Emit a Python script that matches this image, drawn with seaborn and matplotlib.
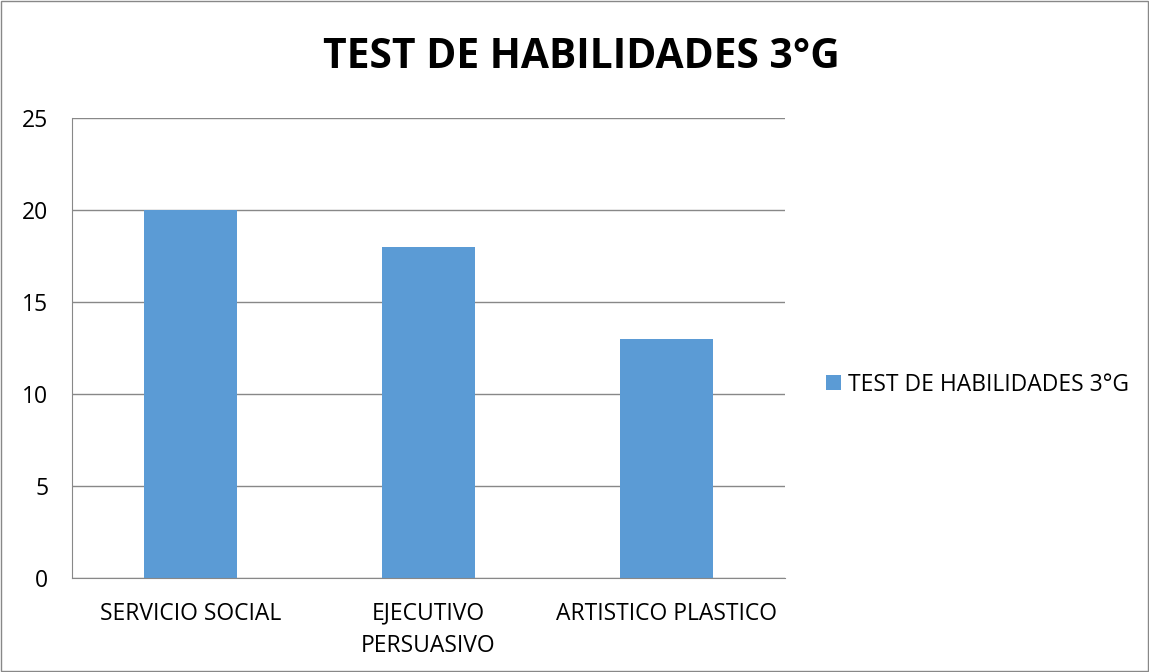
import seaborn as sns
import pandas as pd
import matplotlib.pyplot as plt
from matplotlib.patches import Rectangle

categorias = ['SERVICIO SOCIAL', 'EJECUTIVO\nPERSUASIVO', 'ARTISTICO PLASTICO']
valores = [20, 18, 13]
serie = 'TEST DE HABILIDADES 3°G'
y_ticks = [0, 5, 10, 15, 20, 25]

sns.set_style('white')
plt.rcParams['font.family'] = ['Open Sans', 'DejaVu Sans']
plt.rcParams['text.color'] = 'black'
plt.rcParams['xtick.color'] = 'black'
plt.rcParams['ytick.color'] = 'black'

df = pd.DataFrame({'categoria': categorias, 'valor': valores, 'serie': serie})

fig = plt.figure(figsize=(11.49, 6.72), dpi=100)
ax = fig.add_axes([72 / 1149, 1 - 578 / 672, (785 - 72) / 1149, (578 - 118) / 672])

sns.barplot(data=df, x='categoria', y='valor', hue='serie', palette=['#5B9BD5'],
            width=0.39, ax=ax, legend=True, saturation=1, linewidth=0)

ax.set_ylim(0, 25)
ax.set_xlim(-0.5, 2.5)
ax.set_yticks(y_ticks)
ax.grid(axis='y', color='#888888', linewidth=1)
ax.set_axisbelow(True)
for s in ['top', 'right']:
    ax.spines[s].set_visible(False)
ax.spines['left'].set_color('#888888')
ax.spines['bottom'].set_color('#888888')
ax.set_xlabel('')
ax.set_ylabel('')

# ticks between categories on x axis
ax.set_xticks([-0.5, 0.5, 1.5, 2.5], minor=False)
ax.set_xticklabels([])
ax.set_xticks([0, 1, 2], minor=True)
ax.set_xticklabels(categorias, minor=True, fontsize=16.5, linespacing=1.45)
ax.tick_params(axis='x', which='minor', length=0, pad=17)
ax.tick_params(axis='x', which='major', length=7, color='#888888', direction='out')
ax.tick_params(axis='y', length=7, color='#888888', direction='out', labelsize=16.5, pad=10)

ax.legend(loc='center left', bbox_to_anchor=(1.029, 0.42), frameon=False, fontsize=16.5,
          handlelength=0.65, handleheight=0.65, handletextpad=0.3)

fig.text(581 / 1149, 1 - 58 / 672, 'TEST DE HABILIDADES 3°G', ha='center', va='center',
         fontsize=29.3, fontweight='bold')

fig.patches.append(Rectangle((0.001, 0.001), 0.998, 0.998, transform=fig.transFigure,
                             fill=False, edgecolor='#888888', linewidth=1))

fig.savefig('out.png', dpi=100)
